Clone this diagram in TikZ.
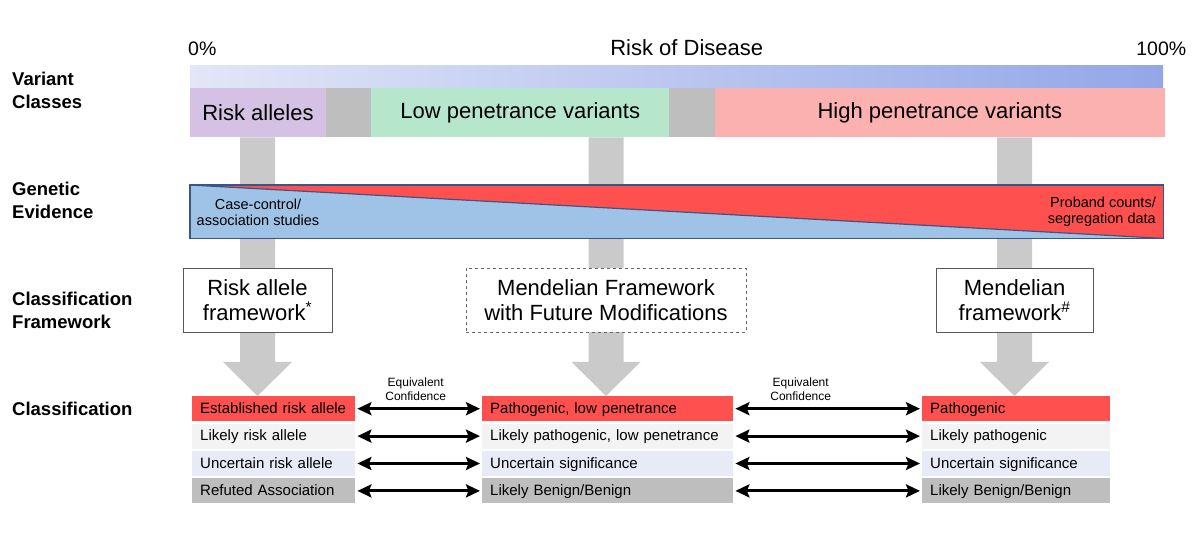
\documentclass[tikz,border=0pt]{standalone}
\usepackage{fontspec}
\setmainfont{Liberation Sans}
\usepackage{tikz}
\usetikzlibrary{positioning, calc, backgrounds, arrows.meta}
\definecolor{barleft}{HTML}{E2E6F7}
\definecolor{barright}{HTML}{93A7E8}
\definecolor{riskpurple}{HTML}{D5C1E4}
\definecolor{lowgreen}{HTML}{B6E6CB}
\definecolor{highpink}{HTML}{FCB1B1}
\definecolor{gapgray}{HTML}{BEBEBE}
\definecolor{stemgray}{HTML}{CACACA}
\definecolor{evblue}{HTML}{9FC3E7}
\definecolor{evred}{HTML}{FF5050}
\definecolor{evline}{HTML}{3A5588}
\definecolor{clsred}{HTML}{FF5050}
\definecolor{clslight}{HTML}{F3F3F3}
\definecolor{clsblue}{HTML}{E8EBF5}
\definecolor{clsgray}{HTML}{BEBEBE}
\tikzset{rowlabel/.style = {anchor=west, align=left, inner sep=0pt, font=\bfseries\fontsize{18.5}{23}\selectfont}}
\tikzset{vclass/.style = {minimum height=49pt, inner sep=0pt, font=\fontsize{22}{26}\selectfont}}
\tikzset{fwbox/.style = {draw=black!65, fill=white, line width=0.8pt, inner sep=0pt, minimum height=64pt, align=center, font=\fontsize{22}{25}\selectfont}}
\tikzset{cls/.style = {minimum height=25pt, inner xsep=8pt, inner ysep=0pt, text height=12pt, text depth=2.5pt, align=left, font=\fontsize{15}{18}\selectfont}}
\tikzset{eqarrow/.style = {{Stealth[length=14pt,width=13pt,inset=2.5pt]}-{Stealth[length=14pt,width=13pt,inset=2.5pt]}, line width=3pt, shorten <=2pt, shorten >=2pt}}
\tikzset{eqtext/.style = {align=center, inner sep=0pt, font=\fontsize{12}{14}\selectfont}}
\tikzset{evtext/.style = {inner sep=0pt, font=\fontsize{14.5}{16.5}\selectfont}}
\begin{document}
\begin{tikzpicture}[x=1pt, y=-1pt]
        \useasboundingbox (0,0) rectangle (1200,545);
        \node[rowlabel] (lvc) at (12,90) {Variant\\Classes};
        \node[rowlabel] (lge) at (12,200) {Genetic\\Evidence};
        \node[rowlabel] (lcf) at (12,310.5) {Classification\\Framework};
        \node[rowlabel] (lcl) at (12,409) {Classification};

        \node[vclass, fill=riskpurple, minimum width=135.5pt, anchor=north west] (rsk) at (190,88) {Risk alleles};
        \node[vclass, fill=gapgray, minimum width=45.5pt, right=-0.5pt of rsk] (gp1) {};
        \node[vclass, fill=lowgreen, minimum width=298.5pt, right=-0.5pt of gp1] (low) {Low penetrance variants};
        \node[vclass, fill=gapgray, minimum width=45.5pt, right=-0.5pt of low] (gp2) {};
        \node[vclass, fill=highpink, minimum width=450pt, right=-0.5pt of gp2] (high) {High penetrance variants};
        \node[minimum width=973pt, minimum height=22pt, inner sep=0pt, left color=barleft, right color=barright, anchor=south west] (bar) at (rsk.north west) {};
        \node[inner sep=0pt, anchor=base west, font=\fontsize{19.5}{22}\selectfont] (p0) at ($(bar.north west)+(-2,-10)$) {0\%};
        \node[inner sep=0pt, anchor=base east, font=\fontsize{19.5}{22}\selectfont] (p100) at ($(bar.north east)+(23,-10)$) {100\%};
        \node[inner sep=0pt, anchor=base, font=\fontsize{22}{26}\selectfont] (rod) at ($(bar.north)+(10,-10)$) {Risk of Disease};

        \node[fill=evblue, minimum width=973pt, minimum height=53pt, inner sep=0pt, anchor=north west] (ev) at (190,185) {};
        \fill[evred] (ev.north west) -- (ev.north east) -- (ev.south east) -- cycle;
        \draw[evline, line width=1.2pt] (ev.north west) -- (ev.south east);
        \draw[evline, line width=1.2pt] (ev.north west) rectangle (ev.south east);
        \node[evtext, align=center] (cc) at (258,212.5) {Case-control/\\association studies};
        \node[evtext, align=right, anchor=east] (pc) at (1156,212) {Proband counts/\\segregation data};

        \node[fwbox, minimum width=149pt] (rf) at (257.5,300) {Risk allele\\framework\textsuperscript{*}};
        \node[fwbox, dashed, draw=black!60, minimum width=280pt] (mf) at (606,300.5) {Mendelian Framework\\with Future Modifications};
        \node[fwbox, minimum width=157pt] (hf) at (1014.5,300) {Mendelian\\framework\textsuperscript{\#}};

        \node[cls, fill=clsred, text width=147pt, anchor=north west] (est) at (192,396) {Established risk allele};
        \node[cls, fill=clslight, text width=147pt, below=2pt of est] (lra) {Likely risk allele};
        \node[cls, fill=clsblue, text width=147pt, below=2pt of lra] (ura) {Uncertain risk allele};
        \node[cls, fill=clsgray, text width=147pt, below=2pt of ura] (ref) {Refuted Association};
        \node[cls, fill=clsred, text width=235pt, anchor=north west] (pln) at (482,396) {Pathogenic, low penetrance};
        \node[cls, fill=clslight, text width=235pt, below=2pt of pln] (lpl) {Likely pathogenic, low penetrance};
        \node[cls, fill=clsblue, text width=235pt, below=2pt of lpl] (usm) {Uncertain significance};
        \node[cls, fill=clsgray, text width=235pt, below=2pt of usm] (lbm) {Likely Benign/Benign};
        \node[cls, fill=clsred, text width=172pt, anchor=north west] (pat) at (922,396) {Pathogenic};
        \node[cls, fill=clslight, text width=172pt, below=2pt of pat] (lpa) {Likely pathogenic};
        \node[cls, fill=clsblue, text width=172pt, below=2pt of lpa] (usr) {Uncertain significance};
        \node[cls, fill=clsgray, text width=172pt, below=2pt of usr] (lbr) {Likely Benign/Benign};

        \foreach \a/\b in {est/pln, lra/lpl, ura/usm, ref/lbm, pln/pat, lpl/lpa, usm/usr, lbm/lbr}
            \draw[eqarrow] (\a.east) -- (\b.west);
        \node[eqtext] (eq1) at ($(est.east)!0.5!(pln.west)+(-3,-19.5)$) {Equivalent\\Confidence};
        \node[eqtext] (eq2) at ($(pln.east)!0.5!(pat.west)+(-27,-19.5)$) {Equivalent\\Confidence};

        \begin{scope}[on background layer]
            \foreach \f/\c in {rf/est, mf/pln, hf/pat} {
                \coordinate (top) at (\f.center |- rsk.south);
                \coordinate (tip) at (\f.center |- \c.north);
                \fill[stemgray] ($(top)+(-17.5,0)$) -- ($(top)+(17.5,0)$) -- ($(tip)+(17.5,-34)$) -- ($(tip)+(34.5,-34)$)
                    -- (tip) -- ($(tip)+(-34.5,-34)$) -- ($(tip)+(-17.5,-34)$) -- cycle;
            }
        \end{scope}
    \end{tikzpicture}
\end{document}
